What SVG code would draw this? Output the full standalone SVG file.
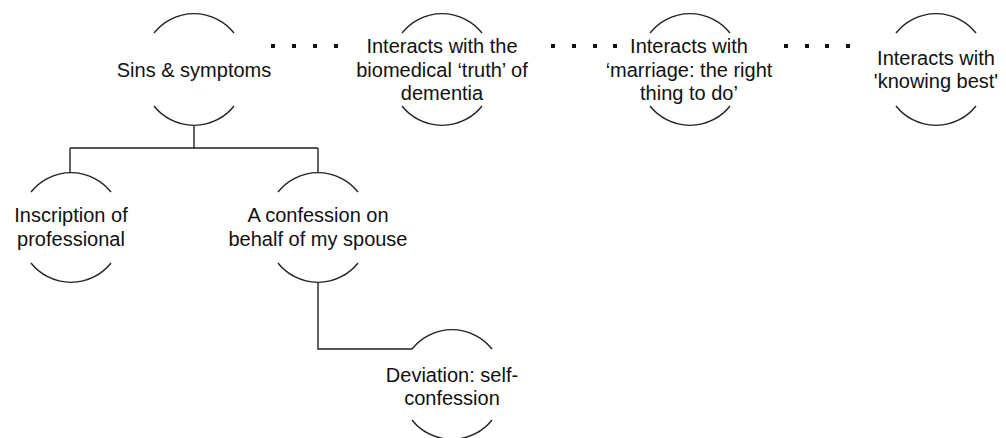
<svg xmlns="http://www.w3.org/2000/svg" width="1006" height="438" viewBox="0 0 1006 438">
<style>
.arc{fill:none;stroke:#222;stroke-width:1.4}
.ln{fill:none;stroke:#222;stroke-width:1.4}
.t{font-family:"Liberation Sans",Arial,sans-serif;font-size:20px;fill:#111;text-anchor:middle}
.dot{fill:#111}
</style>
<rect width="1006" height="438" fill="#fff"/>
<g id="connectors">
<path class="ln" d="M194,126 V148 M70,148 H318 M70,148 V172 M318,148 V172"/>
<path class="ln" d="M318,283 V349 H412"/>
<g id="dots1"><rect class="dot" x="271" y="44" width="4" height="4"/><rect class="dot" x="292" y="44" width="4" height="4"/><rect class="dot" x="313" y="44" width="4" height="4"/><rect class="dot" x="334" y="44" width="4" height="4"/></g>
<g id="dots2"><rect class="dot" x="551" y="44" width="4" height="4"/><rect class="dot" x="572" y="44" width="4" height="4"/><rect class="dot" x="593" y="44" width="4" height="4"/><rect class="dot" x="613" y="44" width="4" height="4"/></g>
<g id="dots3"><rect class="dot" x="784" y="44" width="4" height="4"/><rect class="dot" x="805" y="44" width="4" height="4"/><rect class="dot" x="825" y="44" width="4" height="4"/><rect class="dot" x="846" y="44" width="4" height="4"/></g>
</g>
<g id="sins">
<path class="arc" d="M154,33 A51,51 0 0 1 234,33"/>
<path class="arc" d="M154,106 A51,51 0 0 0 234,106"/>
<text class="t" x="194" y="77">Sins &amp; symptoms</text>
</g>
<g id="biomedical">
<path class="arc" d="M402,33 A51,51 0 0 1 482,33"/>
<path class="arc" d="M402,106 A51,51 0 0 0 482,106"/>
<text class="t" x="442" y="53">Interacts with the</text>
<text class="t" x="442" y="77">biomedical ‘truth’ of</text>
<text class="t" x="442" y="100">dementia</text>
</g>
<g id="marriage">
<path class="arc" d="M650,33 A51,51 0 0 1 730,33"/>
<path class="arc" d="M650,106 A51,51 0 0 0 730,106"/>
<text class="t" x="689" y="53">Interacts with</text>
<text class="t" x="689" y="77">‘marriage: the right</text>
<text class="t" x="689" y="100">thing to do’</text>
</g>
<g id="knowing">
<path class="arc" d="M896,33 A51,51 0 0 1 976,33"/>
<path class="arc" d="M896,106 A51,51 0 0 0 976,106"/>
<text class="t" x="936" y="65">Interacts with</text>
<text class="t" x="936" y="88">'knowing best'</text>
</g>
<g id="inscription">
<path class="arc" d="M31,192 A51,51 0 0 1 111,192"/>
<path class="arc" d="M31,263 A51,51 0 0 0 111,263"/>
<text class="t" x="71" y="222">Inscription of</text>
<text class="t" x="71" y="246">professional</text>
</g>
<g id="confession">
<path class="arc" d="M278,192 A51,51 0 0 1 358,192"/>
<path class="arc" d="M278,263 A51,51 0 0 0 358,263"/>
<text class="t" x="318" y="222">A confession on</text>
<text class="t" x="318" y="246">behalf of my spouse</text>
</g>
<g id="deviation">
<path class="arc" d="M412,349 A51,51 0 0 1 492,349"/>
<path class="arc" d="M412,420 A51,51 0 0 0 492,420"/>
<text class="t" x="452" y="382">Deviation: self-</text>
<text class="t" x="452" y="405">confession</text>
</g>
</svg>
